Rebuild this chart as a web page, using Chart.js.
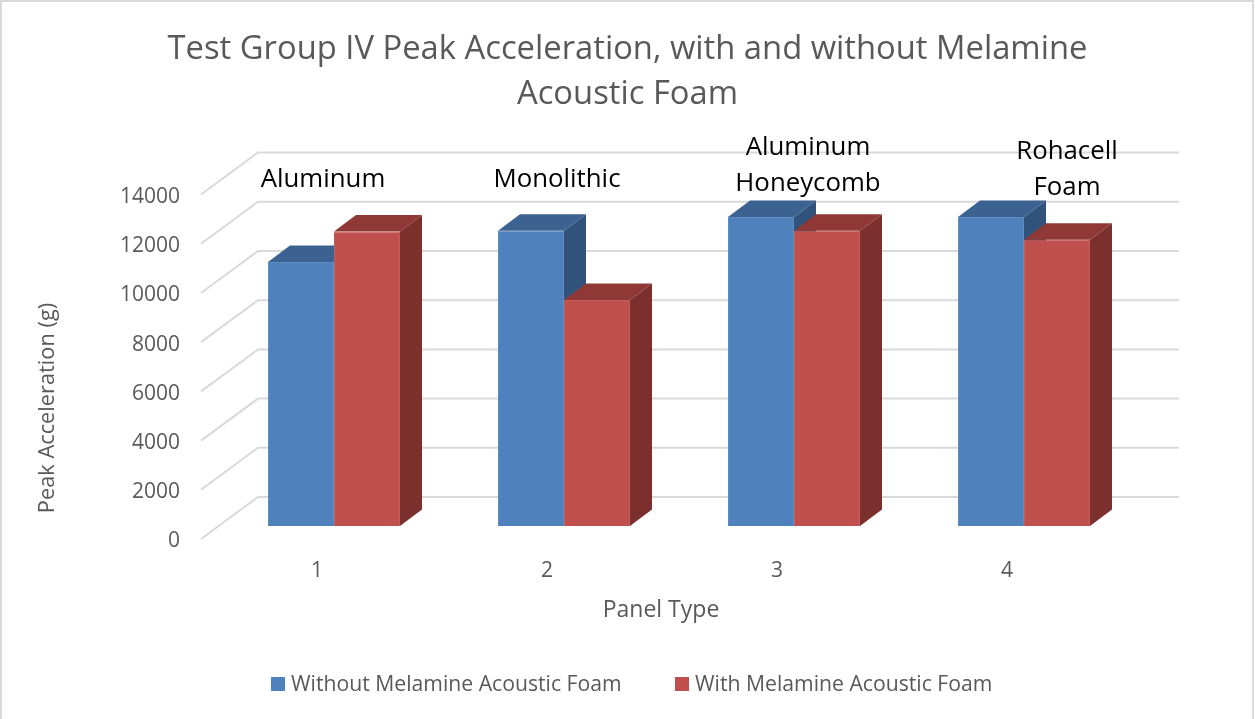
<!DOCTYPE html>
<html>
<head>
<meta charset="utf-8">
<title>Test Group IV Peak Acceleration</title>
<script src="https://cdn.jsdelivr.net/npm/chart.js@4"></script>
<style>
  html, body { margin: 0; padding: 0; background: #fff; }
  canvas { display: block; }
</style>
</head>
<body>
<canvas id="chart" width="1255" height="719"></canvas>
<script>
'use strict';

var categories = ['1', '2', '3', '4'];
var withoutFoam = [10730, 12000, 12560, 12560];
var withFoam = [11970, 9190, 12000, 11630];
var panelNames = [['Aluminum'], ['Monolithic'], ['Aluminum', 'Honeycomb'], ['Rohacell', 'Foam']];
var seriesNames = ['Without Melamine Acoustic Foam', 'With Melamine Acoustic Foam'];
var titleLines = ['Test Group IV Peak Acceleration, with and without Melamine', 'Acoustic Foam'];
var fontName = '"Open Sans", sans-serif';
var textGrey = '#595959';

// shades for the faces of the 3D bars: [top, side]
var faceColors = [['#3c6292', '#31527b'], ['#8f3836', '#7b302e']];

// middle of each panel name, relative to the centre of its bar group
var nameOffsets = [[-11, 180], [-7, 180], [14, 147.5], [43, 151.5]];

// where legend boxes start
var legendLeft = [271, 675];

var threeD = {
  id: 'threeD',
  beforeDraw: function (chart) {
    var ctx = chart.ctx, y = chart.scales.y;
    ctx.save();
    ctx.strokeStyle = '#d9d9d9';
    ctx.lineWidth = 2;
    ctx.strokeRect(1, 1, 1252, 725);
    y.ticks.forEach(function (t) {
      var py = y.getPixelForValue(t.value) + 13;
      ctx.beginPath();
      ctx.moveTo(201, py);
      ctx.lineTo(258, py - 42);
      ctx.lineTo(1179, py - 42);
      ctx.stroke();
    });
    ctx.restore();
  },
  beforeDatasetsDraw: function (chart) {
    var ctx = chart.ctx, dx = 22, dy = -16.5;
    ctx.save();
    categories.forEach(function (c, i) {
      chart.data.datasets.forEach(function (ds, d) {
        var bar = chart.getDatasetMeta(d).data[i];
        var l = bar.x - bar.width / 2, r = bar.x + bar.width / 2;
        ctx.fillStyle = faceColors[d][1];
        ctx.beginPath();
        ctx.moveTo(r, bar.y);
        ctx.lineTo(r + dx, bar.y + dy);
        ctx.lineTo(r + dx, bar.base + dy);
        ctx.lineTo(r, bar.base);
        ctx.closePath();
        ctx.fill();
        ctx.fillStyle = faceColors[d][0];
        ctx.beginPath();
        ctx.moveTo(l, bar.y);
        ctx.lineTo(l + dx, bar.y + dy);
        ctx.lineTo(r + dx, bar.y + dy);
        ctx.lineTo(r, bar.y);
        ctx.closePath();
        ctx.fill();
      });
    });
    ctx.restore();
  },
  afterDraw: function (chart) {
    var ctx = chart.ctx, x = chart.scales.x;
    ctx.save();
    ctx.textAlign = 'center';
    ctx.textBaseline = 'middle';

    // panel names over the bars
    ctx.fillStyle = '#000';
    ctx.font = '25.8px ' + fontName;
    panelNames.forEach(function (lines, i) {
      var cx = x.getPixelForTick(i) + nameOffsets[i][0];
      lines.forEach(function (line, n) {
        ctx.fillText(line, cx, nameOffsets[i][1] + n * 36.5);
      });
    });

    // legend
    ctx.textAlign = 'left';
    ctx.font = '21.2px ' + fontName;
    chart.data.datasets.forEach(function (ds, d) {
      ctx.fillStyle = ds.backgroundColor;
      ctx.fillRect(legendLeft[d], 677, 14, 14);
      ctx.fillStyle = textGrey;
      ctx.fillText(ds.label, legendLeft[d] + 20, 685);
    });
    ctx.textAlign = 'center';

    // axis titles sit off the plot centre in the original
    ctx.fillStyle = textGrey;
    ctx.font = '23px ' + fontName;
    ctx.fillText('Panel Type', 661, 610);
    ctx.font = '21.8px ' + fontName;
    ctx.translate(48, 408);
    ctx.rotate(-Math.PI / 2);
    ctx.fillText('Peak Acceleration (g)', 0, 0);
    ctx.restore();
  }
};

new Chart(document.getElementById('chart'), {
  type: 'bar',
  data: {
    labels: categories,
    datasets: [
      { label: seriesNames[0], data: withoutFoam, backgroundColor: '#4f81bd', borderColor: '#5f8cc2', borderWidth: 1 },
      { label: seriesNames[1], data: withFoam, backgroundColor: '#c0504d', borderColor: '#c45f5c', borderWidth: 1 }
    ]
  },
  plugins: [threeD],
  options: {
    responsive: false,
    animation: false,
    categoryPercentage: 0.574,
    barPercentage: 1,
    plugins: {
      tooltip: { enabled: false },
      legend: { display: false },
      title: {
        display: true,
        text: titleLines,
        color: textGrey,
        font: { family: fontName, size: 32.75, weight: 'normal', lineHeight: 1.375 },
        padding: { top: 27, bottom: 64.5 }
      }
    },
    scales: {
      x: {
        grid: { display: false },
        border: { display: false },
        afterFit: function (s) { s.height = 193; },
        ticks: { color: textGrey, font: { family: fontName, size: 21 }, labelOffset: -17, padding: 24, maxRotation: 0 }
      },
      y: {
        min: 0,
        max: 14000,
        grid: { display: false },
        border: { display: false },
        afterFit: function (s) { s.width = 219; },
        ticks: {
          stepSize: 2000,
          format: { useGrouping: false },
          color: textGrey,
          font: { family: fontName, size: 21 },
          labelOffset: 15.5,
          padding: 31
        }
      },
      // empty axis, only keeps the plot clear of the right edge
      spacer: {
        axis: 'y',
        position: 'right',
        grid: { display: false },
        border: { display: false },
        ticks: { display: false },
        afterFit: function (s) { s.width = 116; }
      }
    }
  }
});
</script>
</body>
</html>
